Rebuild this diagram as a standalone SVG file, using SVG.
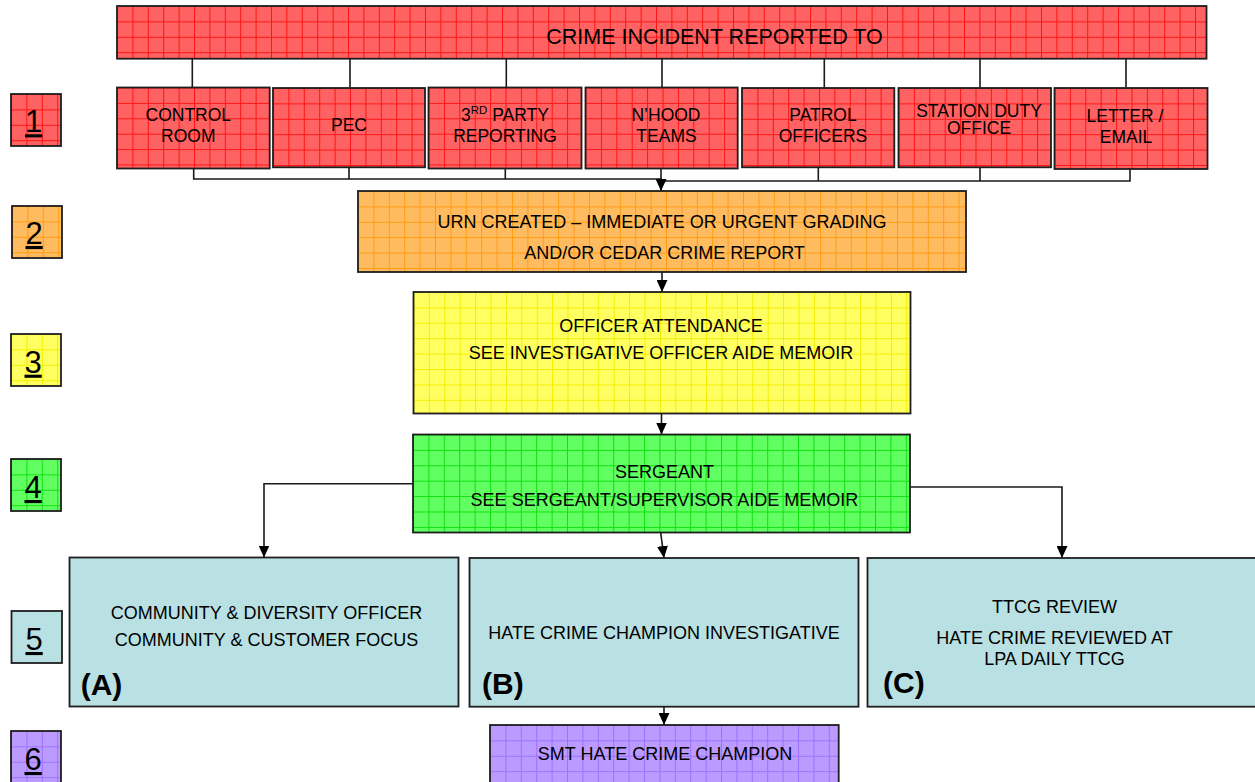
<svg xmlns="http://www.w3.org/2000/svg" width="1255" height="782" viewBox="0 0 1255 782">
<style>
text{font-family:"Liberation Sans",Arial,sans-serif;fill:#000}
.t{font-size:17.5px;text-anchor:middle}
.m{font-size:18px;text-anchor:middle}
.title{font-size:21.5px;text-anchor:middle}
.num{font-size:31px;text-decoration:underline}
.lab{font-size:30px;font-weight:bold}
.box{stroke:#1e1e1e;stroke-width:1.8}
.red{fill:url(#gRed)}
.org{fill:url(#gOrg)}
.yel{fill:url(#gYel)}
.grn{fill:url(#gGrn)}
.pur{fill:url(#gPur)}
.blu{fill:#B9E0E3}
.con{fill:none;stroke:#1a1a1a;stroke-width:1.6}
</style>
<defs>
<pattern id="gRed" patternUnits="userSpaceOnUse" width="15.4" height="15.4"><rect width="15.4" height="15.4" fill="#FF6262"/><path d="M0.5 0V15.4M0 0.5H15.4" stroke="#FF1414" stroke-width="1"/></pattern>
<pattern id="gOrg" patternUnits="userSpaceOnUse" width="15.4" height="15.4"><rect width="15.4" height="15.4" fill="#FFBB60"/><path d="M0.5 0V15.4M0 0.5H15.4" stroke="#FF9C10" stroke-width="1"/></pattern>
<pattern id="gYel" patternUnits="userSpaceOnUse" width="15.4" height="15.4"><rect width="15.4" height="15.4" fill="#FFFF62"/><path d="M0.5 0V15.4M0 0.5H15.4" stroke="#F2EE00" stroke-width="1"/></pattern>
<pattern id="gGrn" patternUnits="userSpaceOnUse" width="15.4" height="15.4"><rect width="15.4" height="15.4" fill="#62FF62"/><path d="M0.5 0V15.4M0 0.5H15.4" stroke="#10E010" stroke-width="1"/></pattern>
<pattern id="gPur" patternUnits="userSpaceOnUse" width="15.4" height="15.4"><rect width="15.4" height="15.4" fill="#BB9BFF"/><path d="M0.5 0V15.4M0 0.5H15.4" stroke="#9E70FF" stroke-width="1"/></pattern>
<marker id="arr" viewBox="0 0 12 11" refX="12" refY="5.5" markerWidth="12" markerHeight="11" markerUnits="userSpaceOnUse" orient="auto"><path d="M0 0L12 5.5L0 11Z" fill="#000"/></marker>
</defs>

<g id="connectors">
<path class="con" d="M192.3 58.7V87.5M350 58.7V87.5M506.3 58.7V87.5M662 58.7V87.5M824.3 58.7V87.5M980 58.7V87.5M1126 58.7V87.5"/>
<path class="con" d="M193.7 168.5V179H662M349 167.5V179M505.3 168.5V179M662 181H1130V169M818.3 167.5V181M980 167.5V181"/>
<path class="con" d="M661 168.5V191" marker-end="url(#arr)"/>
<path class="con" d="M662 272V292" marker-end="url(#arr)"/>
<path class="con" d="M661.5 413.5V434.5" marker-end="url(#arr)"/>
<path class="con" d="M413 483.7H264V557.5" marker-end="url(#arr)"/>
<path class="con" d="M910 487H1062V558" marker-end="url(#arr)"/>
<path class="con" d="M660.7 532.7L664 558" marker-end="url(#arr)"/>
<path class="con" d="M664 706.7V725" marker-end="url(#arr)"/>
</g>

<g id="n1" transform="translate(11,94)"><rect class="box red" width="50" height="52"/><text class="num" x="14" y="38.3">1</text></g>
<g id="n2" transform="translate(12,206)"><rect class="box org" width="50" height="52"/><text class="num" x="13.5" y="38">2</text></g>
<g id="n3" transform="translate(11,334)"><rect class="box yel" width="50" height="52"/><text class="num" x="13.5" y="38.7">3</text></g>
<g id="n4" transform="translate(11,459)"><rect class="box grn" width="50" height="52"/><text class="num" x="13.5" y="39">4</text></g>
<g id="n5" transform="translate(11.5,611)"><rect class="box blu" width="50.5" height="52"/><text class="num" x="14" y="39">5</text></g>
<g id="n6" transform="translate(11,731)"><rect class="box pur" width="50" height="60"/><text class="num" x="13.5" y="39">6</text></g>

<g id="reported" transform="translate(117,6)"><rect class="box red" width="1089.5" height="52.7"/><text class="title" x="597.5" y="38">CRIME INCIDENT REPORTED TO</text></g>

<g id="control" transform="translate(117,87.5)"><rect class="box red" width="152.7" height="81"/><text class="t" x="71.3" y="33.2">CONTROL</text><text class="t" x="71.3" y="54.2">ROOM</text></g>
<g id="pec" transform="translate(273,88)"><rect class="box red" width="152" height="79.3"/><text class="t" x="76" y="43">PEC</text></g>
<g id="third" transform="translate(428.5,87.5)"><rect class="box red" width="153" height="81"/><text class="t" x="76.5" y="33.2">3<tspan font-size="11.5" dy="-6.5">RD</tspan><tspan dy="6.5"> PARTY</tspan></text><text class="t" x="76.5" y="54.2">REPORTING</text></g>
<g id="nhood" transform="translate(585.5,87.5)"><rect class="box red" width="152.2" height="81"/><text class="t" x="80.5" y="33.2">N’HOOD</text><text class="t" x="81" y="54.2">TEAMS</text></g>
<g id="patrol" transform="translate(742,88)"><rect class="box red" width="152.3" height="79.3"/><text class="t" x="81" y="33">PATROL</text><text class="t" x="81" y="54">OFFICERS</text></g>
<g id="station" transform="translate(898.5,88)"><rect class="box red" width="152.5" height="79.3"/><text class="t" x="80.5" y="28.8">STATION DUTY</text><text class="t" x="80.5" y="45.5">OFFICE</text></g>
<g id="letter" transform="translate(1054.5,88)"><rect class="box red" width="153" height="81"/><text class="t" x="70.5" y="34.3">LETTER /</text><text class="t" x="71.5" y="54.7">EMAIL</text></g>

<g id="urn" transform="translate(358,191)"><rect class="box org" width="608" height="81"/><text class="m" x="304" y="36.8">URN CREATED – IMMEDIATE OR URGENT GRADING</text><text class="m" x="306.5" y="67.8">AND/OR CEDAR CRIME REPORT</text></g>
<g id="attendance" transform="translate(413.5,292)"><rect class="box yel" width="497" height="121.5"/><text class="m" x="247.5" y="40.3">OFFICER ATTENDANCE</text><text class="m" x="247.5" y="67.3">SEE INVESTIGATIVE OFFICER AIDE MEMOIR</text></g>
<g id="sergeant" transform="translate(413,434.5)"><rect class="box grn" width="497" height="98"/><text class="m" x="251.5" y="43.8">SERGEANT</text><text class="m" x="251.5" y="71.5">SEE SERGEANT/SUPERVISOR AIDE MEMOIR</text></g>

<g id="boxA" transform="translate(69.5,557.5)"><rect class="box blu" width="389" height="149"/><text class="m" x="197" y="61.5">COMMUNITY &amp; DIVERSITY OFFICER</text><text class="m" x="197" y="88.5">COMMUNITY &amp; CUSTOMER FOCUS</text><text class="lab" x="11.2" y="137.5">(A)</text></g>
<g id="boxB" transform="translate(469.5,558)"><rect class="box blu" width="389" height="148.7"/><text class="m" x="194.5" y="81">HATE CRIME CHAMPION INVESTIGATIVE</text><text class="lab" x="12.5" y="136">(B)</text></g>
<g id="boxC" transform="translate(867.5,558)"><rect class="box blu" width="400" height="148.7"/><text class="m" x="187" y="55">TTCG REVIEW</text><text class="m" x="187" y="86">HATE CRIME REVIEWED AT</text><text class="m" x="187" y="107">LPA DAILY TTCG</text><text class="lab" x="15.5" y="135">(C)</text></g>

<g id="smt" transform="translate(490,725)"><rect class="box pur" width="348.7" height="66"/><text class="m" x="175" y="35">SMT HATE CRIME CHAMPION</text></g>
</svg>
